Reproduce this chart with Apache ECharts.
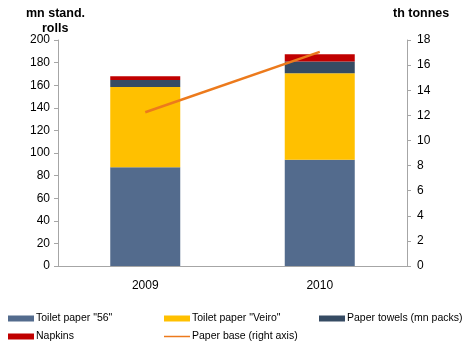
<!DOCTYPE html>
<html>
<head>
<meta charset="utf-8">
<script src="https://cdn.jsdelivr.net/npm/echarts@6/dist/echarts.min.js"></script>
<style>
  html, body { margin: 0; padding: 0; background: #fff; }
  #chart { width: 465px; height: 345px; }
</style>
</head>
<body>
<div id="chart"></div>
<script>
var years = ['2009', '2010']
var toilet56 = [87.5, 94]
var toiletVeiro = [71, 76.5]
var towels = [6, 10.5]
var napkins = [3.5, 6.5]
var paperBase = [12.25, 17.05]
var seriesNames = ['Toilet paper "56"', 'Toilet paper "Veiro"', 'Paper towels (mn packs)', 'Napkins', 'Paper base (right axis)']

var font = 'Liberation Sans, Arial, sans-serif'
var myChart = echarts.init(document.getElementById('chart'))

var axisCommon = {
  type: 'value',
  splitLine: { show: false },
  axisLine: { show: true, lineStyle: { color: '#a6a6a6' } },
  axisTick: { show: true, length: 4, lineStyle: { color: '#a6a6a6' } },
  axisLabel: { color: '#000', fontFamily: font, fontSize: 12 }
}

// legend slots: [left, top]
var legendPos = [[8, 313], [164, 313], [319, 313], [8, 331], [164, 331]]
var legends = seriesNames.map(function (n, i) {
  return {
    left: legendPos[i][0], top: legendPos[i][1], padding: 0,
    itemWidth: 26, itemHeight: 6, itemGap: 0,
    textStyle: { fontFamily: font, fontSize: 10.5, color: '#000', padding: [0, 0, 0, -3] },
    data: [{ name: n, icon: i === 4 ? 'path://M0,0H26V1.5H0Z' : 'rect' }]
  }
})

myChart.setOption({
  animation: false,
  grid: { left: 58, right: 58, top: 40, bottom: 79, containLabel: false },
  legend: legends,
  graphic: [
    { type: 'text', left: 26, top: 7, style: { text: 'mn stand.', font: 'bold 12.5px ' + font, fill: '#000' } },
    { type: 'text', left: 42, top: 22, style: { text: 'rolls', font: 'bold 12.5px ' + font, fill: '#000' } },
    { type: 'text', left: 393, top: 7, style: { text: 'th tonnes', font: 'bold 12.5px ' + font, fill: '#000' } }
  ],
  xAxis: {
    type: 'category',
    data: years,
    axisLine: { lineStyle: { color: '#a6a6a6' } },
    axisTick: { show: false },
    axisLabel: { color: '#000', fontFamily: font, fontSize: 12, margin: 14 }
  },
  yAxis: [
    Object.assign({}, axisCommon, { min: 0, max: 200, interval: 20 }),
    Object.assign({}, axisCommon, { min: 0, max: 18, interval: 2, position: 'right', axisLabel: Object.assign({}, axisCommon.axisLabel, { margin: 10 }) })
  ],
  series: [
    { name: seriesNames[0], type: 'bar', stack: 'a', barWidth: 70, itemStyle: { color: '#536b8d' }, data: toilet56 },
    { name: seriesNames[1], type: 'bar', stack: 'a', itemStyle: { color: '#ffc000' }, data: toiletVeiro },
    { name: seriesNames[2], type: 'bar', stack: 'a', itemStyle: { color: '#364b63' }, data: towels },
    { name: seriesNames[3], type: 'bar', stack: 'a', itemStyle: { color: '#c00000' }, data: napkins },
    {
      name: seriesNames[4], type: 'line', yAxisIndex: 1,
      symbol: 'none', lineStyle: { color: '#ec7a1c', width: 2.5 },
      itemStyle: { color: '#ec7a1c' }, data: paperBase
    }
  ]
})
</script>
</body>
</html>
